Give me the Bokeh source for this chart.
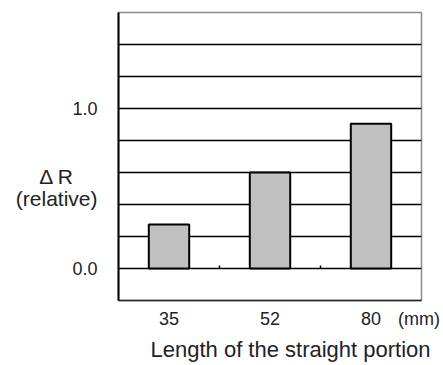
from bokeh.plotting import figure
from bokeh.models import (Range1d, FixedTicker, PrintfTickFormatter,
                          LinearAxis, Title)
from bokeh.embed import file_html
from bokeh.resources import INLINE

# data
categories = ["35", "52", "80"]
values = [0.275, 0.60, 0.905]
y_tick_values = [0.0, 1.0]
grid_levels = [0.0, 0.2, 0.4, 0.6, 0.8, 1.0, 1.2, 1.4]
x_unit = "(mm)"
x_title = "Length of the straight portion"
y_title_top = "Δ R"
y_title_bottom = "(relative)"

FONT = "Liberation Sans"
TXT = "#222222"

n = len(categories)
xpos = [i + 0.5 for i in range(n)]   # slot centres of the categories

p = figure(
    x_range=Range1d(0, n),
    y_range=Range1d(-0.2, 1.6),
    x_axis_location=None,
    width=443, height=365,
    min_border_left=118, min_border_right=22,
    min_border_top=12, min_border_bottom=62,
    output_backend="svg", toolbar_location=None,
)
p.background_fill_color = "white"
p.border_fill_color = "white"
p.outline_line_color = "#8a8a8a"
p.outline_line_width = 1.5

# grid
p.xgrid.visible = False
p.ygrid.ticker = FixedTicker(ticks=grid_levels)
p.ygrid.grid_line_color = "black"
p.ygrid.grid_line_width = 1.6

# y axis (values)
p.yaxis.ticker = FixedTicker(ticks=y_tick_values)
p.yaxis.formatter = PrintfTickFormatter(format="%.1f")
p.yaxis.axis_line_color = "black"
p.yaxis.axis_line_width = 2
p.yaxis.major_tick_line_color = None
p.yaxis.minor_tick_line_color = None
p.yaxis.major_label_standoff = 15
p.yaxis.major_label_text_font = FONT
p.yaxis.major_label_text_font_size = "18px"
p.yaxis.major_label_text_color = TXT

# y title as an outer axis whose labels sit at chosen heights
ytitle_pos = {0.578: y_title_top + "\u00a0\u00a0\u00a0\u00a0", 0.44: y_title_bottom}
ylab = LinearAxis(
    ticker=FixedTicker(ticks=list(ytitle_pos.keys())),
    major_label_overrides=ytitle_pos,
    axis_line_color=None, major_tick_line_color=None, minor_tick_line_color=None,
    major_label_standoff=-34,
    major_label_text_font=FONT, major_label_text_font_size="21px",
    major_label_text_color=TXT,
)
p.add_layout(ylab, "left")

# x axis: category labels plus the unit
x_labels = {x: c for x, c in zip(xpos, categories)}
x_labels[2.975] = x_unit
xax = LinearAxis(
    ticker=FixedTicker(ticks=list(x_labels.keys())),
    major_label_overrides=x_labels,
    axis_line_color="#222222", axis_line_width=1.6,
    major_tick_line_color=None, minor_tick_line_color=None,
    major_label_standoff=2,
    major_label_text_font=FONT, major_label_text_font_size="18px",
    major_label_text_color=TXT,
)
p.add_layout(xax, "below")

p.add_layout(Title(text=x_title, align="left", offset=32, standoff=7,
                   text_font=FONT, text_font_size="22px", text_font_style="normal",
                   text_color=TXT), "below")

# bars
p.vbar(x=xpos, top=values, bottom=0, width=0.4,
       fill_color="#c0c0c0", line_color="black", line_width=2)

# small ticks at category boundaries on the zero line
bounds = list(range(1, n))
p.segment(x0=bounds, y0=[0] * len(bounds), x1=bounds, y1=[0.018] * len(bounds),
          line_color="black", line_width=1.5)

open("out.html", "w").write(file_html(p, INLINE))
